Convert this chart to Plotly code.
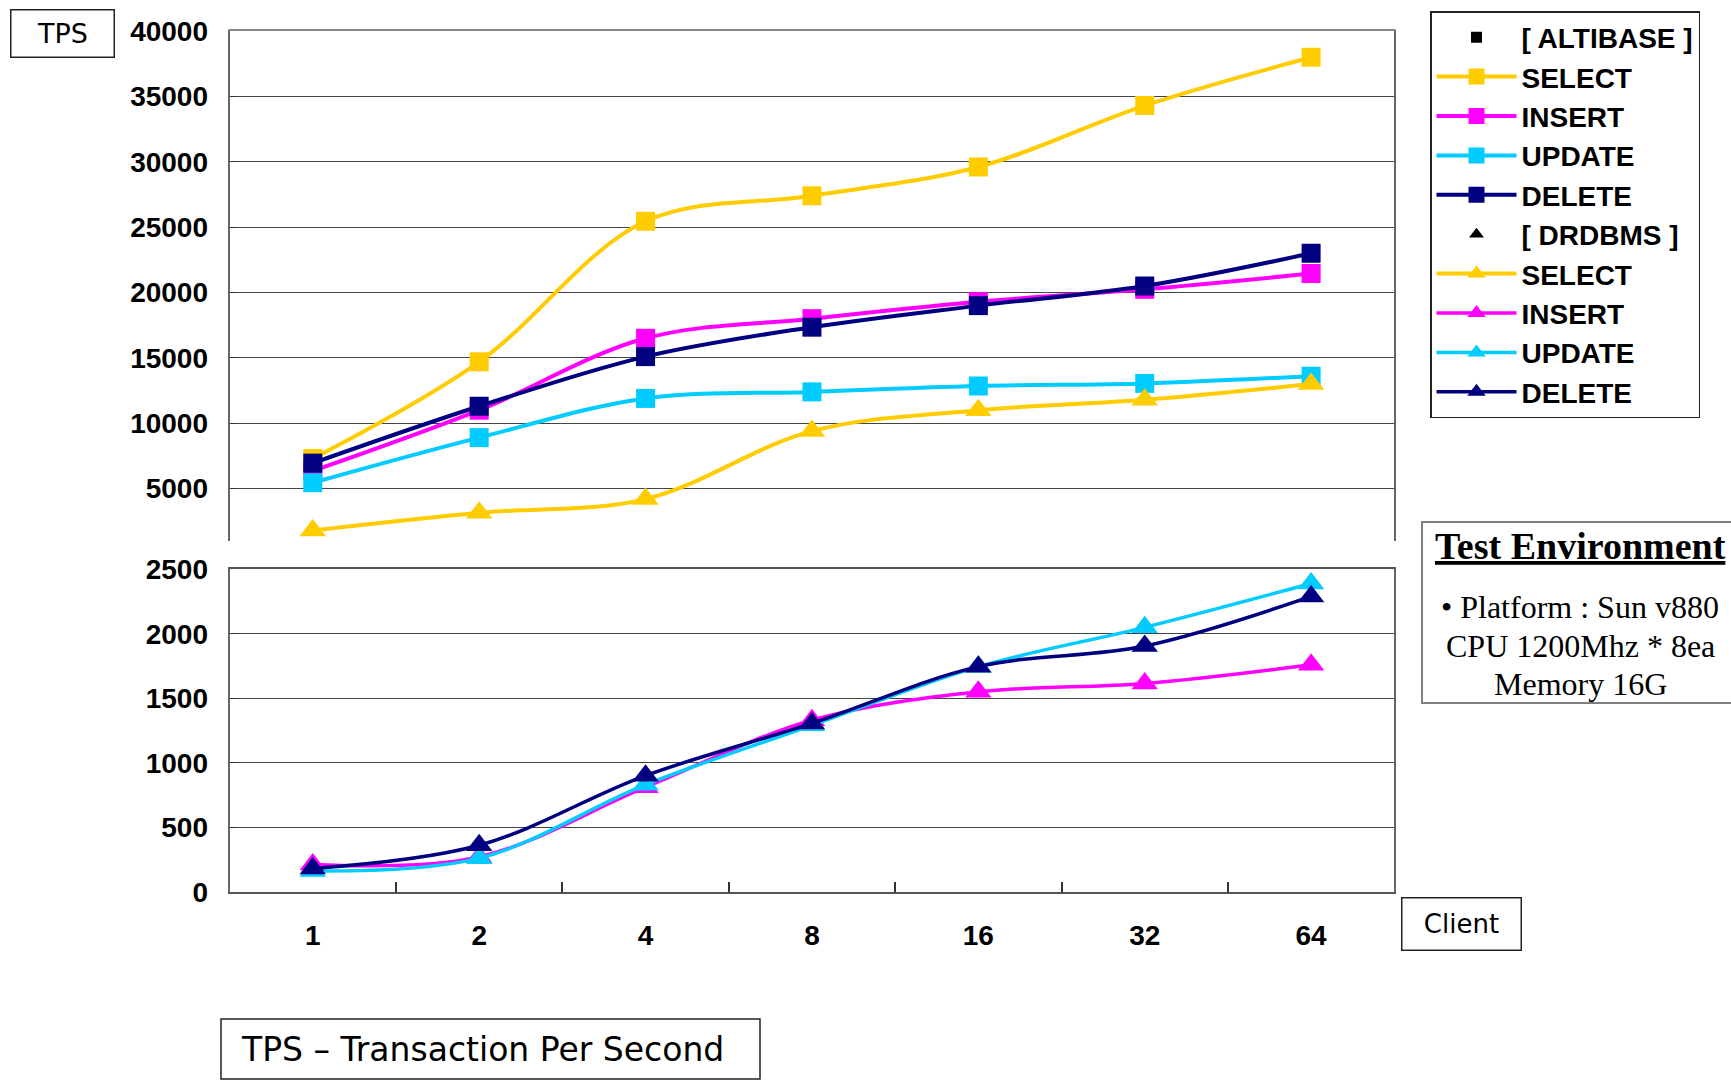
import plotly.graph_objects as go

# ---------------- data ----------------
clients = ["1", "2", "4", "8", "16", "32", "64"]

alti_select = [7300, 14700, 25450, 27400, 29600, 34300, 38000]
alti_insert = [6350, 11000, 16500, 18000, 19300, 20250, 21450]
alti_update = [5450, 8900, 11900, 12400, 12850, 13050, 13600]
alti_delete = [6950, 11300, 15100, 17350, 19000, 20500, 23000]

dr_select = [1800, 3150, 4200, 9400, 11000, 11800, 13000]
dr_insert = [210, 270, 810, 1330, 1550, 1615, 1760]
dr_update = [160, 260, 830, 1290, 1745, 2050, 2390]
dr_delete = [180, 360, 900, 1305, 1745, 1905, 2290]

upper_ticks = [5000, 10000, 15000, 20000, 25000, 30000, 35000, 40000]
lower_ticks = [0, 500, 1000, 1500, 2000, 2500]

GOLD = "#FFCC00"
MAGENTA = "#FF00FF"
CYAN = "#00CCFF"
NAVY = "#000080"

W, H = 1731, 1080


def px(x):
    return x / W


def py(y):
    return 1 - y / H


SANS = "Liberation Sans, Arial, sans-serif"
VERD = "DejaVu Sans, Verdana, sans-serif"
SERIF = "Liberation Serif, Times New Roman, serif"

fig = go.Figure()


def header(name, symbol, size):
    fig.add_trace(go.Scatter(
        x=[None], y=[None], mode="markers", name=name,
        marker=dict(symbol=symbol, size=size, color="black"),
        xaxis="x2", yaxis="y2", showlegend=True))


def series(name, vals, color, symbol, msize, lw, upper):
    fig.add_trace(go.Scatter(
        x=clients, y=vals, name=name, mode="lines+markers",
        line=dict(color=color, width=lw, shape="spline", smoothing=1.0),
        marker=dict(symbol=symbol, size=msize, color=color),
        xaxis="x2" if upper else "x", yaxis="y2" if upper else "y"))


header("[ ALTIBASE ]", "square", 11)
series("SELECT", alti_select, GOLD, "square", 19, 4, True)
series("INSERT", alti_insert, MAGENTA, "square", 19, 4, True)
series("UPDATE", alti_update, CYAN, "square", 19, 4, True)
series("DELETE", alti_delete, NAVY, "square", 19, 4, True)
header("[ DRDBMS ]", "triangle-up", 13)
series("SELECT ", dr_select, GOLD, "triangle-up", 23, 4, True)
series("INSERT ", dr_insert, MAGENTA, "triangle-up", 23, 3.5, False)
series("UPDATE ", dr_update, CYAN, "triangle-up", 23, 3.5, False)
series("DELETE ", dr_delete, NAVY, "triangle-up", 23, 3.5, False)

tickfont = dict(family=SANS, size=28, color="black", weight="bold")
xdom = [px(229.6), px(1394.3)]

fig.update_layout(
    width=W, height=H,
    margin=dict(l=0, r=0, t=0, b=0, autoexpand=False),
    paper_bgcolor="white", plot_bgcolor="white",
    showlegend=True,
    xaxis=dict(domain=xdom, anchor="y", type="category",
               categoryorder="array", categoryarray=clients,
               range=[-0.5, 6.5], tickson="boundaries",
               ticks="inside", ticklen=10, tickcolor="#333", tickwidth=1.5,
               showline=True, linecolor="#555", linewidth=2, mirror=True,
               showgrid=False, zeroline=False, tickfont=tickfont,
               ticklabelstandoff=18, automargin=False),
    xaxis2=dict(domain=xdom, anchor="y2", matches="x", type="category",
                side="top", showticklabels=False, ticks="",
                showline=True, linecolor="#888", linewidth=2,
                showgrid=False, zeroline=False, automargin=False),
    yaxis=dict(domain=[py(891.7), py(569.3)], anchor="x",
               range=[0, 2500], tickvals=lower_ticks, tickformat="d",
               ticks="inside", ticklen=6, tickcolor="#333",
               showgrid=True, gridcolor="#444", gridwidth=1,
               showline=True, linecolor="#666", linewidth=2, mirror=True,
               zeroline=False, tickfont=tickfont, ticklabelstandoff=14,
               automargin=False),
    yaxis2=dict(domain=[py(540.9), py(31.1)], anchor="x2",
                range=[1000, 40000], tickvals=upper_ticks, tickformat="d",
                ticks="inside", ticklen=6, tickcolor="#333",
                showgrid=True, gridcolor="#444", gridwidth=1,
                showline=True, linecolor="#666", linewidth=2, mirror=True,
                zeroline=False, tickfont=tickfont, ticklabelstandoff=14,
                automargin=False),
    legend=dict(x=px(1430), y=py(11), xanchor="left", yanchor="top",
                bgcolor="white", bordercolor="#222", borderwidth=1.5,
                font=dict(family=SANS, size=28, color="black", weight="bold"),
                traceorder="normal", itemwidth=80, tracegroupgap=0),
)

annotations = [
    dict(x=px(62), y=py(33.5), text="TPS", width=102, height=46,
         bordercolor="#222", borderwidth=1.5,
         font=dict(family=VERD, size=27, color="black")),
    dict(x=px(1461), y=py(924), text="Client", width=118, height=51,
         bordercolor="#222", borderwidth=1.5,
         font=dict(family=VERD, size=26, color="black")),
    dict(x=px(240), y=py(1049), text="TPS \u2013 Transaction Per Second",
         xanchor="left",
         font=dict(family=VERD, size=33, color="black")),
]
for a in annotations:
    a.setdefault("xanchor", "center")
    a.update(xref="paper", yref="paper", showarrow=False,
             yanchor="middle", borderpad=0)

env_lines = [
    ("<b><u>Test Environment</u></b>", 546, 38),
    ("\u2022 Platform : Sun v880", 607, 32),
    ("CPU 1200Mhz * 8ea", 646, 32),
    ("Memory 16G", 684, 32),
]
for txt, yy, fs in env_lines:
    annotations.append(dict(
        x=px(1580), y=py(yy), xref="paper", yref="paper", text=txt,
        showarrow=False, xanchor="center", yanchor="middle",
        font=dict(family=SERIF, size=fs, color="black")))

fig.update_layout(annotations=annotations)
fig.add_shape(type="rect", xref="paper", yref="paper",
              x0=px(1422), x1=px(1745), y0=py(703), y1=py(522),
              line=dict(color="#808080", width=2), fillcolor="rgba(0,0,0,0)")
fig.add_shape(type="rect", xref="paper", yref="paper",
              x0=px(221), x1=px(760), y0=py(1079), y1=py(1019),
              line=dict(color="#222", width=1.5), fillcolor="rgba(0,0,0,0)")

fig.write_html("out.html")
